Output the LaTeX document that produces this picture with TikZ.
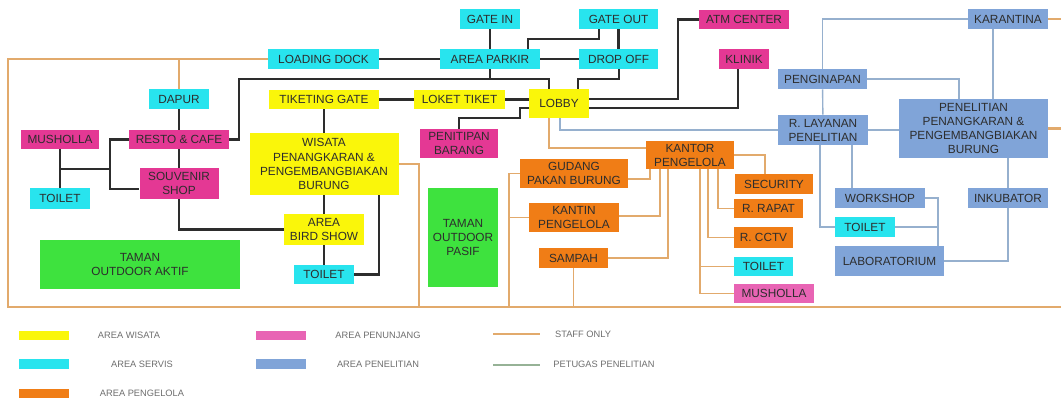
\documentclass[tikz,border=0pt]{standalone}
\usepackage{fontspec}
\setmainfont{Liberation Sans}
\definecolor{cWisata}{RGB}{250,246,10}
\definecolor{cServis}{RGB}{40,228,238}
\definecolor{cPengelola}{RGB}{240,125,22}
\definecolor{cPenunjang}{RGB}{228,56,148}
\definecolor{cPenunjangMuda}{RGB}{232,100,180}
\definecolor{cPenelitian}{RGB}{128,164,216}
\definecolor{cTaman}{RGB}{62,226,62}
\definecolor{cJalan}{RGB}{45,45,45}
\definecolor{cStaff}{RGB}{226,170,108}
\definecolor{cPeneliti}{RGB}{150,176,206}
\definecolor{cHijauGaris}{RGB}{150,178,150}
\definecolor{cTeks}{RGB}{45,45,45}
\definecolor{cLegenda}{RGB}{110,110,110}

\begin{document}
\begin{tikzpicture}[
    x=0.25mm, y=-0.25mm,
    every node/.style={inner sep=0pt, align=center, text=cTeks, font=\fontsize{8.4}{10}\selectfont},
    box/.style 2 args={minimum width=#1, minimum height=#2},
    wisata/.style={fill=cWisata},
    servis/.style={fill=cServis},
    pengelola/.style={fill=cPengelola},
    penunjang/.style={fill=cPenunjang},
    penelitian/.style={fill=cPenelitian},
    taman/.style={fill=cTaman},
    jalan/.style={draw=cJalan, line width=1.9pt},
    staff/.style={draw=cStaff, line width=1.2pt},
    peneliti/.style={draw=cPeneliti, line width=1pt},
    batas/.style={draw=cStaff, line width=1.6pt},
    legbar/.style={minimum width=12.5mm, minimum height=2.4mm},
    legteks/.style={text=cLegenda, font=\fontsize{6.6}{8}\selectfont}
]
\useasboundingbox (0,0) rectangle (1061,403);

\node[servis, box={15mm}{5mm}] (gatein) at (490,19) {GATE IN};
\node[servis, box={19.75mm}{5mm}] (gateout) at (618.5,19) {GATE OUT};
\node[servis, box={27.75mm}{5mm}] (dock) at (323.5,59) {LOADING DOCK};
\node[servis, box={25mm}{5mm}] (parkir) at (490,59) {AREA PARKIR};
\node[servis, box={19.75mm}{5mm}] (dropoff) at (618.5,59) {DROP OFF};
\node[servis, box={15mm}{5mm}] (dapur) at (179,99) {DAPUR};
\node[servis, box={15mm}{5.25mm}] (toiletA) at (60,198.5) {TOILET};
\node[servis, box={15mm}{4.75mm}] (toiletB) at (324,274.5) {TOILET};
\node[servis, box={14.75mm}{4.75mm}] (toiletC) at (763.5,266.5) {TOILET};
\node[servis, box={15mm}{5mm}] (toiletD) at (865,227) {TOILET};

\node[wisata, box={27.5mm}{4.75mm}] (tiket) at (324,99.5) {TIKETING GATE};
\node[wisata, box={22.75mm}{4.75mm}] (loket) at (459.5,99.5) {LOKET TIKET};
\node[wisata, box={15mm}{7.25mm}] (lobby) at (559,103.5) {LOBBY};
\node[wisata, box={37.25mm}{15.5mm}] (wisata) at (324,164) {WISATA\\PENANGKARAN \&\\PENGEMBANGBIAKAN\\BURUNG};
\node[wisata, box={20mm}{7.75mm}] (birdshow) at (324,229.5) {AREA\\BIRD SHOW};

\node[penunjang, box={22.5mm}{4.75mm}] (atm) at (744,19.5) {ATM CENTER};
\node[penunjang, box={12.5mm}{5mm}] (klinik) at (744,59) {KLINIK};
\node[penunjang, box={19.5mm}{4.75mm}] (mushollaA) at (60,139.5) {MUSHOLLA};
\node[penunjang, box={25mm}{4.75mm}] (resto) at (179,139.5) {RESTO \& CAFE};
\node[penunjang, box={19.75mm}{7.75mm}] (souvenir) at (179,183.5) {SOUVENIR\\SHOP};
\node[penunjang, box={19.5mm}{7.25mm}] (penitipan) at (459,143.5) {PENITIPAN\\BARANG};
\node[penunjang, fill=cPenunjangMuda, box={20mm}{4.75mm}] (mushollaB) at (774,293.5) {MUSHOLLA};

\node[pengelola, box={22mm}{7mm}] (kantor) at (690,155) {KANTOR\\PENGELOLA};
\node[pengelola, box={27mm}{7.25mm}] (gudang) at (574,173.5) {GUDANG\\PAKAN BURUNG};
\node[pengelola, box={22.5mm}{7.25mm}] (kantin) at (574,217.5) {KANTIN\\PENGELOLA};
\node[pengelola, box={17.25mm}{5mm}] (sampah) at (573.5,258) {SAMPAH};
\node[pengelola, box={19.5mm}{5mm}] (security) at (774,184) {SECURITY};
\node[pengelola, box={17.25mm}{4.75mm}] (rapat) at (768.5,208.5) {R. RAPAT};
\node[pengelola, box={14.75mm}{5.25mm}] (cctv) at (763.5,237.5) {R. CCTV};

\node[penelitian, box={20mm}{5mm}] (karantina) at (1008,19) {KARANTINA};
\node[penelitian, box={22.25mm}{5mm}] (penginapan) at (822.5,79) {PENGINAPAN};
\node[penelitian, box={22.5mm}{7.5mm}] (layanan) at (823,130) {R. LAYANAN\\PENELITIAN};
\node[penelitian, box={37.25mm}{14.75mm}] (penelitian) at (973.5,128.5) {PENELITIAN\\PENANGKARAN \&\\PENGEMBANGBIAKAN\\BURUNG};
\node[penelitian, box={22.5mm}{5mm}] (workshop) at (880,198) {WORKSHOP};
\node[penelitian, box={20mm}{5mm}] (inkubator) at (1008,198) {INKUBATOR};
\node[penelitian, box={27.25mm}{7.5mm}] (lab) at (889.5,261) {LABORATORIUM};

\node[taman, box={50mm}{12.25mm}] (aktif) at (140,264.5) {TAMAN\\OUTDOOR AKTIF};
\node[taman, box={17.5mm}{24.75mm}] (pasif) at (463,237.5) {TAMAN\\OUTDOOR\\PASIF};

\draw[jalan] (dock) -- (parkir);
\draw[jalan] (gatein) -- (parkir);
\draw[jalan] (528,0 |- parkir.north) -- (528,39) -| (599,0 |- gateout.south);
\draw[jalan] (gateout) -- (dropoff);
\draw[jalan] (parkir) -- (dropoff);
\draw[jalan] (resto.east) -| (239,79) -- (549,79) -- (549,0 |- lobby.north);
\draw[jalan] (parkir.south) -- (490,79);
\draw[jalan] (619,0 |- dropoff.south) |- (578,79) -- (578,0 |- lobby.north);
\draw[jalan] (tiket) -- (loket);
\draw[jalan] (loket.east) -- (loket.east -| lobby.west);
\draw[jalan] (tiket) -- (wisata);
\draw[jalan] (lobby.west |- 0,108) -- (520,108) -- (520,118) -| (penitipan.north);
\draw[jalan] (lobby.east |- 0,99) -| (678,0 |- atm.west) -- (atm.west);
\draw[jalan] (lobby.east |- 0,108) -| (738,0 |- klinik.south);
\draw[jalan] (dapur) -- (resto);
\draw[jalan] (resto) -- (souvenir);
\draw[jalan] (mushollaA) -- (toiletA);
\draw[jalan] (mushollaA |- 0,169) -- (110,169);
\draw[jalan] (resto.west) -| (110,189) -- (souvenir.west |- 0,189);
\draw[jalan] (souvenir.south) |- (birdshow.west);
\draw[jalan] (wisata) -- (birdshow);
\draw[jalan] (birdshow) -- (toiletB);
\draw[jalan] (toiletB.east) -| (379,0 |- wisata.south);

\draw[batas] (dock.west) -| (8,307) -- (1061,307);
\draw[batas] (dapur.north) -- (dapur.north |- dock.west);
\draw[batas] (karantina.east) -- (1061,0 |- karantina.east);
\draw[batas] (penelitian.east) -- (1061,0 |- penelitian.east);

\draw[staff] (549,0 |- lobby.south) |- (kantor.west |- 0,148);
\draw[staff] (gudang.east |- 0,179) -| (650,0 |- kantor.south);
\draw[staff] (kantin.east |- 0,216) -| (660,0 |- kantor.south);
\draw[staff] (sampah.east) -| (668,0 |- kantor.south);
\draw[staff] (sampah.south) -- (sampah.south |- 0,307);
\draw[staff] (gudang.west) -| (509,307);
\draw[staff] (kantin.west) -- (509,0 |- kantin.west);
\draw[staff] (wisata.east) -| (419,307);
\draw[staff] (kantor.east) -| (765,0 |- security.north);
\draw[staff] (718,0 |- kantor.south) |- (rapat.west);
\draw[staff] (708,0 |- kantor.south) |- (cctv.west);
\draw[staff] (700,0 |- kantor.south) |- (mushollaB.west);
\draw[staff] (700,0 |- toiletC.west) -- (toiletC.west);

\draw[peneliti] (560,0 |- lobby.south) |- (layanan.west);
\draw[peneliti] (karantina.west) -| (penginapan.north);
\draw[peneliti] (penginapan) -- (layanan);
\draw[peneliti] (penginapan.east) -| (959,0 |- penelitian.north);
\draw[peneliti] (993,0 |- karantina.south) -- (993,0 |- penelitian.north);
\draw[peneliti] (layanan.east) -- (layanan.east -| penelitian.west);
\draw[peneliti] (820,0 |- layanan.south) |- (toiletD.west);
\draw[peneliti] (852,0 |- layanan.south) -- (852,0 |- workshop.north);
\draw[peneliti] (workshop.east) -| (938,0 |- lab.north);
\draw[peneliti] (toiletD.east) -- (938,0 |- toiletD.east);
\draw[peneliti] (inkubator.north |- penelitian.south) -- (inkubator.north);
\draw[peneliti] (inkubator.south) |- (lab.east);

\node[legbar, fill=cWisata] (lwisata) at (44,335.5) {};
\node[legteks] (twisata) at (129,335) {AREA WISATA};
\node[legbar, fill=cServis] (lservis) at (44,364) {};
\node[legteks] (tservis) at (142,364) {AREA SERVIS};
\node[legbar, fill=cPengelola] (lpengelola) at (44,393.5) {};
\node[legteks] (tpengelola) at (142,393) {AREA PENGELOLA};
\node[legbar, fill=cPenunjangMuda] (lpenunjang) at (280.5,335.5) {};
\node[legteks] (tpenunjang) at (378,335) {AREA PENUNJANG};
\node[legbar, fill=cPenelitian] (lpenelitian) at (280.5,364) {};
\node[legteks] (tpenelitian) at (378,364) {AREA PENELITIAN};
\draw[staff] (493,334) -- (540,334);
\node[legteks] (tstaff) at (583,334) {STAFF ONLY};
\draw[draw=cHijauGaris, line width=1pt] (493,365) -- (540,365);
\node[legteks] (tpetugas) at (604,364) {PETUGAS PENELITIAN};

\end{tikzpicture}
\end{document}
